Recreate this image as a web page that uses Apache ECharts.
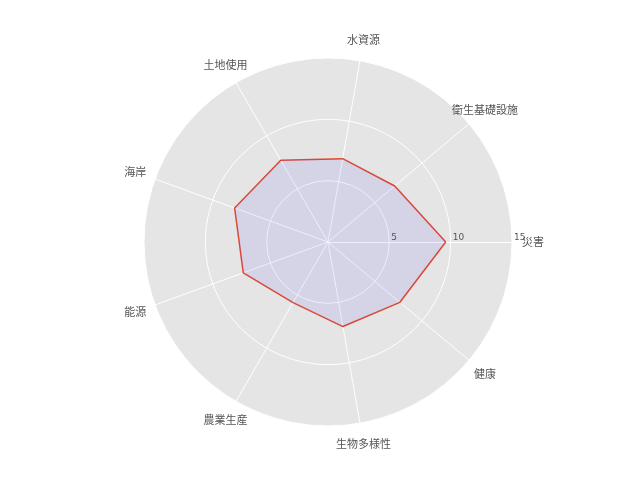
<!DOCTYPE html>
<html><head><meta charset="utf-8">
<script src="https://cdn.jsdelivr.net/npm/echarts@6/dist/echarts.min.js"></script>
<style>html,body{margin:0;padding:0;background:#fff}#c{width:640px;height:480px}</style>
</head><body><div id="c"></div>
<script>
const categories = ['災害','衛生基礎設施','水資源','土地使用','海岸','能源','農業生産','生物多様性','健康'];
const values = [9.6, 7.1, 6.9, 7.7, 8.1, 7.35, 5.7, 7.0, 7.65];
const tickLabels = ['5','10','15'];
const maxValue = 15;

const chart = echarts.init(document.getElementById('c'), null, {renderer:'canvas'});
chart.setOption({
  animation:false,
  backgroundColor:'#ffffff',
  radar:{
    center:[328,242],
    radius:184,
    startAngle:0,
    shape:'circle',
    splitNumber:3,
    nameGap:21,
    axisName:{color:'#555555', fontSize:11, fontFamily:'Noto Sans CJK JP', align:'center', verticalAlign:'middle'},
    indicator: categories.map((c,i)=>{
      const o = {name:c, min:0, max:maxValue};
      if(i===0){
        o.nameMoveOverlap = false;
        o.axisLabel = {show:true, color:'#555555', fontSize:9, fontFamily:'DejaVu Sans', align:'left', margin:0,
          padding:[0,0,0,2],
          formatter:(v)=> tickLabels.indexOf(String(v))>=0 ? String(v) : ''};
      }
      return o;
    }),
    axisLabel:{show:false},
    axisTick:{show:false},
    axisLine:{lineStyle:{color:'#ffffff', width:1}},
    splitLine:{lineStyle:{color:'#ffffff', width:1}},
    splitArea:{show:true, areaStyle:{color:['#e5e5e5']}}
  },
  series:[{
    type:'radar',
    symbol:'none',
    lineStyle:{color:'#e24a33', width:1.5},
    areaStyle:{color:'rgba(0,0,255,0.1)'},
    data:[{value:values}]
  }]
});
</script></body></html>
